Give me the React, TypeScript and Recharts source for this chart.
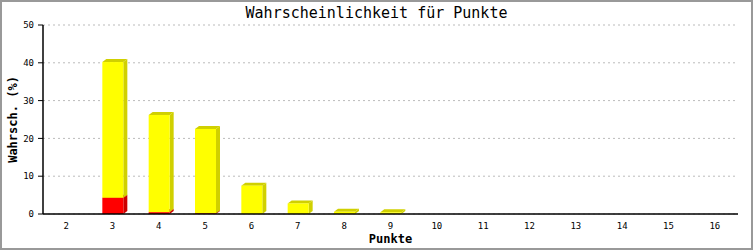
import React from 'react'
import { BarChart, Bar, XAxis, YAxis, CartesianGrid } from 'recharts'

// Wuerfel-Punkte und Wahrscheinlichkeiten (in %)
const PUNKTE = [2, 3, 4, 5, 6, 7, 8, 9, 10, 11, 12, 13, 14, 15, 16]
const ROT = [0, 4.3, 0.5, 0.2, 0, 0, 0, 0, 0, 0, 0, 0, 0, 0, 0]
const GELB = [0, 35.9, 25.7, 22.3, 7.5, 2.8, 0.6, 0.45, 0, 0, 0, 0, 0, 0, 0]
const Y_TICKS = [0, 10, 20, 30, 40, 50]

const TITLE = 'Wahrscheinlichkeit für Punkte'
const MONO = '"DejaVu Sans Mono", "Liberation Mono", monospace'

const DX = 4
const DY = 3

const data = PUNKTE.map((p, i) => ({ p: String(p), rot: ROT[i], gelb: GELB[i] }))

// 3D-Balken: Vorderseite + dunklere Seiten- und Oberflaeche
function make3D(side: string) {
  return (props: any) => {
    const { x, y, width, height, fill } = props
    if (!height || height <= 0) return <g />
    const r = x + width
    const b = y + height
    return (
      <g>
        <polygon
          points={`${r},${y} ${r + DX},${y - DY} ${r + DX},${b - DY} ${r},${b}`}
          fill={side}
        />
        <polygon
          points={`${x},${y} ${x + DX},${y - DY} ${r + DX},${y - DY} ${r},${y}`}
          fill={side}
        />
        <rect x={x} y={y} width={width} height={height} fill={fill} />
      </g>
    )
  }
}

export default function App() {
  return (
    <div style={{ position: 'absolute', left: 0, top: 0, width: 753, height: 250, background: '#fff' }}>
      <div
        style={{
          position: 'absolute',
          left: 0,
          top: 3,
          width: 753,
          textAlign: 'center',
          fontFamily: MONO,
          fontSize: 15,
          color: '#000',
          lineHeight: '20px',
        }}
      >
        {TITLE}
      </div>
      <BarChart
        width={753}
        height={250}
        data={data}
        margin={{ top: 25, right: 15, left: 0, bottom: 0 }}
        barSize={21}
        style={{ position: 'absolute', left: 0, top: 0 }}
      >
        <CartesianGrid vertical={false} stroke="#bbbbbb" strokeDasharray="2 3" />
        <XAxis
          dataKey="p"
          height={36}
          tickLine={false}
          axisLine={{ stroke: '#000', strokeWidth: 1.5 }}
          tick={{ fill: '#000', fontSize: 9, fontFamily: MONO }}
          tickMargin={3}
          label={{
            value: 'Punkte',
            position: 'insideBottom',
            offset: 7,
            style: { fill: '#000', fontSize: 12, fontWeight: 'bold', fontFamily: MONO },
          }}
        />
        <YAxis
          width={43}
          domain={[0, 50]}
          ticks={Y_TICKS}
          tickSize={5}
          tickLine={{ stroke: '#000' }}
          axisLine={{ stroke: '#000', strokeWidth: 1.5 }}
          tick={{ fill: '#000', fontSize: 9, fontFamily: MONO }}
          tickMargin={4}
          label={{
            value: 'Wahrsch. (%)',
            angle: -90,
            position: 'insideLeft',
            offset: 13,
            style: { fill: '#000', fontSize: 12, fontWeight: 'bold', fontFamily: MONO, textAnchor: 'middle' },
          }}
        />
        <YAxis
          yAxisId="r"
          orientation="right"
          width={0}
          tick={false}
          tickLine={false}
          axisLine={{ stroke: '#000' }}
        />
        <Bar dataKey="rot" stackId="a" fill="#ff0000" shape={make3D('#cc0000')} isAnimationActive={false} />
        <Bar dataKey="gelb" stackId="a" fill="#ffff00" shape={make3D('#d0d000')} isAnimationActive={false} />
      </BarChart>
      <div
        style={{
          position: 'absolute',
          inset: 0,
          border: '2px solid #999',
          boxSizing: 'border-box',
          pointerEvents: 'none',
        }}
      />
    </div>
  )
}
